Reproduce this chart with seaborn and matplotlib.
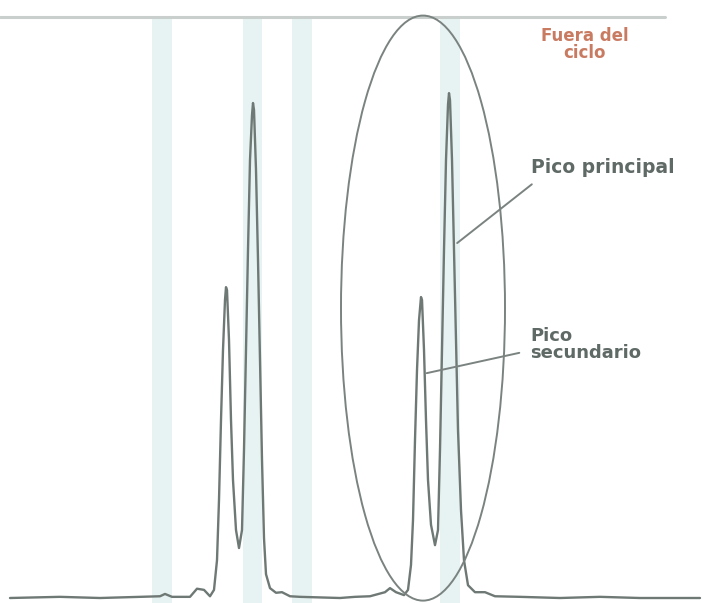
import matplotlib
matplotlib.use("Agg")
import matplotlib.pyplot as plt
from matplotlib.patches import Ellipse
import pandas as pd
import seaborn as sns

# Detector trace: retention time (min) and signal (% of full scale)
time_min = [0.20, 1.20, 2.00, 2.80, 3.20, 3.30, 3.44, 3.80, 3.94, 4.08, 4.20, 4.28,
            4.34, 4.38, 4.42, 4.46, 4.50, 4.52, 4.54, 4.58, 4.62, 4.66, 4.72, 4.78,
            4.84, 4.88, 4.92, 4.96, 5.00, 5.04, 5.06, 5.08, 5.12, 5.16, 5.20, 5.24,
            5.28, 5.32, 5.40, 5.52, 5.64, 5.80, 6.00, 6.80, 7.10, 7.40, 7.70, 7.80,
            7.92, 8.08, 8.16, 8.22, 8.26, 8.30, 8.34, 8.38, 8.42, 8.44, 8.48, 8.52,
            8.56, 8.62, 8.70, 8.76, 8.80, 8.84, 8.88, 8.92, 8.96, 8.98, 9.00, 9.04,
            9.08, 9.12, 9.16, 9.22, 9.28, 9.36, 9.50, 9.70, 9.90, 10.40, 11.20,
            12.00, 12.80, 14.00]
signal = [0.0, 0.2, 0.0, 0.2, 0.3, 0.7, 0.2, 0.2, 1.6, 1.4, 0.3, 1.4,
          6.5, 16.9, 30.6, 42.7, 51.3, 53.5, 53.0, 44.4, 30.6, 20.3, 11.7, 8.6,
          11.7, 25.5, 42.7, 59.9, 75.4, 83.1, 85.2, 84.0, 73.7, 58.2, 41.0, 23.8,
          10.3, 4.1, 1.7, 0.9, 1.0, 0.3, 0.2, 0.0, 0.2, 0.3, 1.0, 1.7,
          1.0, 0.5, 1.4, 5.7, 13.4, 27.2, 39.2, 47.8, 51.8, 51.3, 42.7, 30.6,
          20.3, 12.6, 9.1, 11.7, 25.5, 42.7, 59.9, 75.4, 84.9, 86.9, 85.7, 75.4,
          59.9, 44.4, 28.9, 15.1, 6.5, 2.2, 1.0, 1.0, 0.3, 0.2, 0.0,
          0.2, 0.0, 0.0]

# Integration windows (start, end) in minutes
window_start = [3.04, 4.86, 5.84, 8.80]
window_end = [3.44, 5.24, 6.24, 9.20]

# Annotation texts
label_main = "Pico principal"
label_secondary = "Pico\nsecundario"
label_cycle = "Fuera del\nciclo"

trace = pd.DataFrame({"time": time_min, "signal": signal})

sns.set_theme(style="white")
plt.rcParams["font.family"] = ["DejaVu Sans"]

fig = plt.figure(figsize=(7.03, 6.03), dpi=100)
ax = fig.add_axes([0, 0, 1, 1])
ax.set_xlim(0, 14.06)
ax.set_ylim(-0.86, 102.93)

# shaded windows
for a, b in zip(window_start, window_end):
    ax.axvspan(a, b, ymin=0, ymax=0.972, color="#e7f3f2", lw=0, zorder=0)

# full-scale reference line
ax.plot([0, 13.3], [100, 100], color="#c9cfcc", lw=2.2, zorder=1)

sns.lineplot(data=trace, x="time", y="signal", sort=False, estimator=None,
             color="#6e7874", lw=1.7, ax=ax, zorder=3)

# ellipse around the second peak pair
ax.add_patch(Ellipse((8.46, 49.9), width=3.28, height=100.7, fill=False,
                     edgecolor="#7a8380", lw=1.4, zorder=4))

# leader lines to the peaks
ax.annotate("", xy=(9.10, 60.8), xytext=(10.68, 71.5),
            arrowprops=dict(arrowstyle="-", color="#7a8380", lw=1.4))
ax.annotate("", xy=(8.48, 38.6), xytext=(10.44, 42.3),
            arrowprops=dict(arrowstyle="-", color="#7a8380", lw=1.4))

ax.text(10.62, 74.1, label_main, fontsize=13.5, fontweight="heavy",
        color="#5f6965", ha="left", va="center")
ax.text(10.60, 43.6, label_secondary, fontsize=13, fontweight="heavy",
        color="#5f6965", ha="left", va="center", linespacing=0.95)
ax.text(11.70, 95.3, label_cycle, fontsize=12, fontweight="heavy",
        color="#c97b62", ha="center", va="center", linespacing=0.95)

ax.set_xlabel("")
ax.set_ylabel("")
ax.set_xticks([])
ax.set_yticks([])
for s in ax.spines.values():
    s.set_visible(False)

fig.savefig("out.png", dpi=100)
